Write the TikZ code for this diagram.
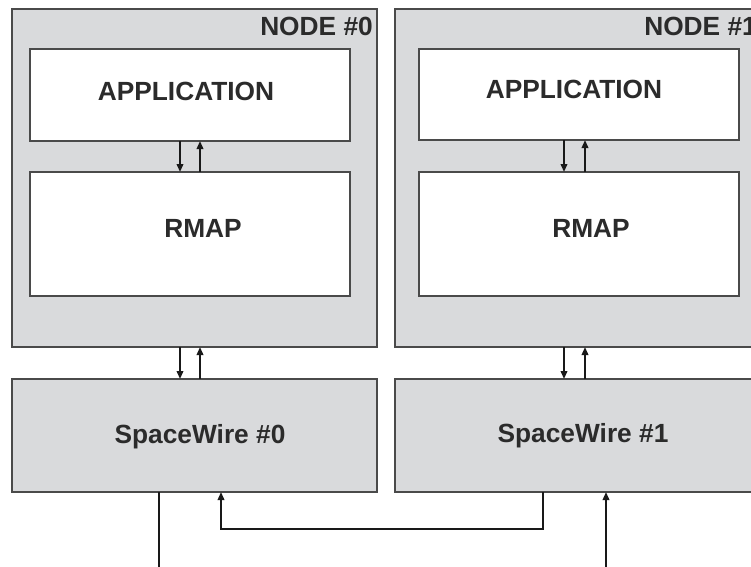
\documentclass[tikz,border=0pt]{standalone}
\usepackage{fontspec}
\setmainfont{Liberation Sans}
\usetikzlibrary{arrows.meta}
\definecolor{panel}{HTML}{D9DADC}
\definecolor{edge}{HTML}{4A4A4A}
\definecolor{ink}{HTML}{2B2B2B}
\tikzset{
  box/.style={draw=edge, line width=1.1pt, anchor=north west, inner sep=0pt, outer sep=0pt},
  nodebox/.style={box, fill=panel},
  layer/.style={box, fill=white},
  lbl/.style={text=ink, font=\bfseries\fontsize{26.3}{31}\selectfont, inner sep=0pt},
  flow/.style={line width=1.9pt, draw=black!90, -{Triangle[length=8pt,width=6.5pt]}},
  wire/.style={line width=1.9pt, draw=black!90},
}
\begin{document}
\begin{tikzpicture}[x=1pt,y=-1pt]
\useasboundingbox (0,0) rectangle (751,566);
\clip (0,0) rectangle (751,566);

% node #0
\node[nodebox, minimum width=365pt, minimum height=338pt] (n0) at (12,9) {};
\node[layer, minimum width=320pt, minimum height=92pt] (app0) at (30,49) {};
\node[layer, minimum width=320pt, minimum height=124pt] (rmap0) at (30,172) {};
\node[nodebox, minimum width=365pt, minimum height=113pt] (spw0) at (12,379) {};

% node #1 (runs past the right edge)
\node[nodebox, minimum width=365pt, minimum height=338pt] (n1) at (395,9) {};
\node[layer, minimum width=320pt, minimum height=91pt] (app1) at (419,49) {};
\node[layer, minimum width=320pt, minimum height=124pt] (rmap1) at (419,172) {};
\node[nodebox, minimum width=365pt, minimum height=113pt] (spw1) at (395,379) {};

% labels
\node[lbl, anchor=base east] (t0) at (373,35) {NODE \#0};
\node[lbl, anchor=base east] (t1) at (757,35) {NODE \#1};
\node[lbl, anchor=base] (ta0) at (186,100) {APPLICATION};
\node[lbl, anchor=base] (ta1) at (574,98) {APPLICATION};
\node[lbl, anchor=base] (tr0) at (203,237) {RMAP};
\node[lbl, anchor=base] (tr1) at (591,237) {RMAP};
\node[lbl, anchor=base] (ts0) at (200,443) {SpaceWire \#0};
\node[lbl, anchor=base] (ts1) at (583,442) {SpaceWire \#1};

% application <-> rmap
\draw[flow] ([xshift=-10pt]app0.south) -- ([xshift=-10pt]rmap0.north);
\draw[flow] ([xshift=10pt]rmap0.north) -- ([xshift=10pt]app0.south);
\draw[flow] ([xshift=-15pt]app1.south) -- ([xshift=-15pt]rmap1.north);
\draw[flow] ([xshift=6pt]rmap1.north) -- ([xshift=6pt]app1.south);

% node <-> spacewire
\draw[flow] ([xshift=-14.5pt]n0.south) -- ([xshift=-14.5pt]spw0.north);
\draw[flow] ([xshift=5.5pt]spw0.north) -- ([xshift=5.5pt]n0.south);
\draw[flow] ([xshift=-13.5pt]n1.south) -- ([xshift=-13.5pt]spw1.north);
\draw[flow] ([xshift=7.5pt]spw1.north) -- ([xshift=7.5pt]n1.south);

% links below the SpaceWire blocks
\coordinate (in0) at (159,570);
\coordinate (in1) at (606,570);
\coordinate (lp) at (221,529);
\coordinate (rp) at (543,529);
\draw[wire] (spw0.south -| in0) -- (in0);
\draw[flow] (spw1.south -| rp) -- (rp) -- (lp) -- (spw0.south -| lp);
\draw[flow] (in1) -- (spw1.south -| in1);
\end{tikzpicture}
\end{document}
